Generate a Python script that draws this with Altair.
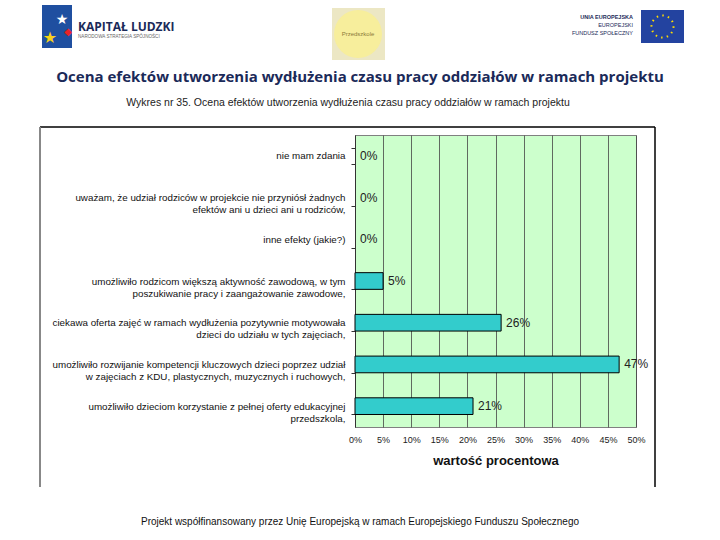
import altair as alt
import pandas as pd

categories = [
    "nie mam zdania",
    "uważam, że udział rodziców w projekcie nie przyniósł żadnych|efektów ani u dzieci ani u rodziców,",
    "inne efekty (jakie?)",
    "umożliwiło rodzicom większą aktywność zawodową, w tym|poszukiwanie pracy i zaangażowanie zawodowe,",
    "ciekawa oferta zajęć w ramach wydłużenia pozytywnie motywowała|dzieci do udziału w tych zajęciach,",
    "umożliwiło rozwijanie kompetencji kluczowych dzieci poprzez udział|w zajęciach z KDU, plastycznych, muzycznych i ruchowych,",
    "umożliwiło dzieciom korzystanie z pełnej oferty edukacyjnej|przedszkola,",
]
values = [0, 0, 0, 5, 26, 47, 21]
x_ticks = [0, 5, 10, 15, 20, 25, 30, 35, 40, 45, 50]

title_text = "Ocena efektów utworzenia wydłużenia czasu pracy oddziałów w ramach projektu"
subtitle_text = "Wykres nr 35. Ocena efektów utworzenia wydłużenia czasu pracy oddziałów w ramach projektu"
footer_text = "Projekt współfinansowany przez Unię Europejską w ramach Europejskiego Funduszu Społecznego"
x_title = "wartość procentowa"

df = pd.DataFrame({"cat": categories, "value": values})
df["label"] = df["value"].astype(str) + "%"

W, H = 281, 292
FONT = "Liberation Sans"

y_enc = alt.Y(
    "cat:N",
    sort=categories,
    scale=alt.Scale(paddingInner=0.6, paddingOuter=0.3),
    axis=alt.Axis(
        title=None,
        labelExpr="split(datum.label, '|')",
        labelFont=FONT,
        labelFontSize=9.8,
        labelColor="#111",
        labelLineHeight=12,
        labelLimit=400,
        labelPadding=6,
        tickBand="extent",
        tickSize=4,
        tickColor="#333",
        domainColor="#333",
        grid=False,
    ),
)
x_enc = alt.X(
    "value:Q",
    scale=alt.Scale(domain=[0, 50], nice=False),
    axis=alt.Axis(
        values=x_ticks,
        labelExpr="datum.value + '%'",
        labelFont=FONT,
        labelFontSize=9,
        labelColor="#222",
        labelPadding=8,
        labelOverlap=False,
        labelFlush=False,
        tickSize=0,
        domain=False,
        grid=True,
        gridColor="#444",
        gridWidth=0.8,
        title=x_title,
        titleFont=FONT,
        titleFontSize=13,
        titleFontWeight="bold",
        titleColor="#111",
        titlePadding=10,
    ),
)

base = alt.Chart(df)
bars = (
    base.transform_filter("datum.value > 0")
    .mark_bar(color="#33cccc", stroke="#000", strokeWidth=1)
    .encode(x=x_enc, y=y_enc)
)
texts = base.mark_text(align="left", dx=5, font=FONT, fontSize=12, color="#222").encode(
    x=x_enc, y=y_enc, text="label:N"
)

one = pd.DataFrame({"a": [0]})
deco = alt.Chart(one)


def txt(s, x, y, size, **kw):
    return deco.mark_text(text=s, fontSize=size, **kw).encode(x=alt.value(x), y=alt.value(y))


def rect(x, x2, y, y2, **kw):
    return deco.mark_rect(**kw).encode(
        x=alt.value(x), x2=alt.value(x2), y=alt.value(y), y2=alt.value(y2)
    )


def rule(x, x2, y, y2, **kw):
    return deco.mark_rule(**kw).encode(
        x=alt.value(x), x2=alt.value(x2), y=alt.value(y), y2=alt.value(y2)
    )


layers = [
    # chart frame
    rule(-315, 300, -8, -8, color="#000", strokeWidth=1.5),
    rule(-315, -315, -8, 352, color="#888", strokeWidth=2),
    rule(300, 300, -8, 352, color="#000", strokeWidth=1.5),
    # titles
    txt(title_text, 5, -58, 15, font="Open Sans", fontWeight="bold", color="#1b2a59", align="center", baseline="middle"),
    txt(subtitle_text, -7, -32, 10.5, font=FONT, color="#222", align="center", baseline="middle"),
    txt(footer_text, 5, 387, 10, font=FONT, color="#111", align="center", baseline="middle"),
    # Kapitał Ludzki logo
    rect(-313, -283, -130, -87, color="#1f4fa0"),
    txt("★", -293, -115, 14, color="#ffffff", align="center", baseline="middle", font="DejaVu Sans"),
    txt("◆", -287, -103, 10, color="#e8232a", align="center", baseline="middle", font="DejaVu Sans"),
    txt("★", -305, -97, 16, color="#f6d21c", align="center", baseline="middle", font="DejaVu Sans"),
    txt("KAPITAŁ LUDZKI", -277, -108, 12, font="Open Sans", fontWeight="bold", color="#1b2a59", align="left", baseline="middle"),
    txt("NARODOWA STRATEGIA SPÓJNOŚCI", -277, -98, 4.6, font=FONT, color="#666", align="left", baseline="middle"),
    # seal
    rect(-23, 30, -127, -75, color="#ece7c4"),
    deco.mark_point(shape="circle", filled=True, color="#f7ee9c", opacity=1, size=2304).encode(
        x=alt.value(3), y=alt.value(-101)
    ),
    txt("Przedszkole", 3, -101, 6, font=FONT, color="#8a7a3a", align="center", baseline="middle"),
    # EU logo
    txt("UNIA EUROPEJSKA", 278, -118, 5.5, font=FONT, fontWeight="bold", color="#1b2a59", align="right", baseline="middle"),
    txt("EUROPEJSKI", 278, -110, 5.5, font=FONT, color="#1b2a59", align="right", baseline="middle"),
    txt("FUNDUSZ SPOŁECZNY", 278, -102, 5.5, font=FONT, color="#1b2a59", align="right", baseline="middle"),
    rect(286, 329, -125, -92, color="#2343a0"),
    deco.mark_point(shape="circle", filled=False, color="#ffdd00", strokeWidth=2, size=484, strokeDash=[1.5, 4.2], opacity=1).encode(
        x=alt.value(307.5), y=alt.value(-108.5)
    ),
]

chart = (
    alt.layer(bars, texts, *layers)
    .properties(
        width=W,
        height=H,
        autosize=alt.AutoSizeParams(type="none"),
        padding={"left": 355, "top": 135, "right": 720 - 355 - W, "bottom": 540 - 135 - H},
        background="white",
    )
    .configure_view(fill="#ccffcc", stroke="#808080", strokeWidth=1)
)

chart.save("out.html", embed_options={"renderer": "svg", "actions": False})
